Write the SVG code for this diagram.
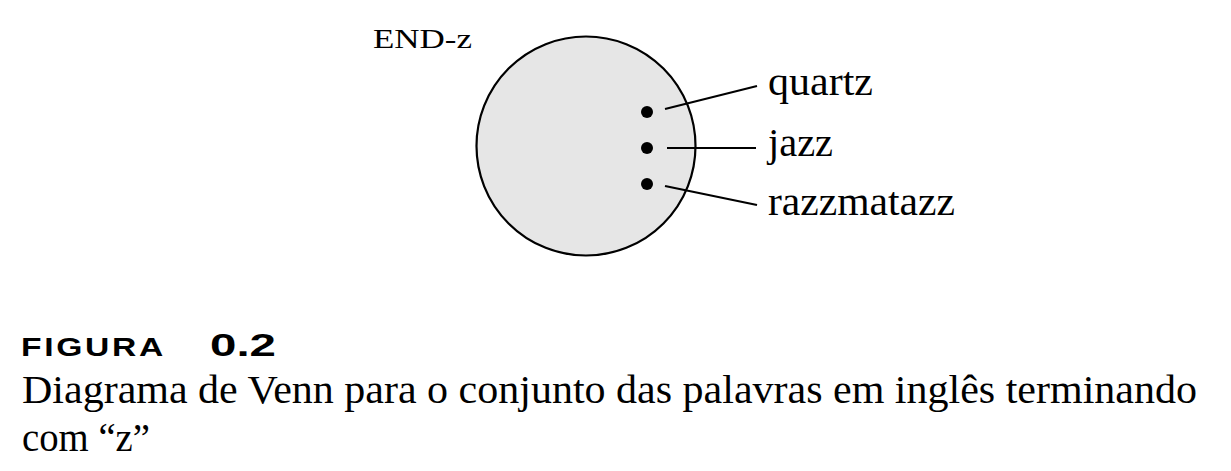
<svg xmlns="http://www.w3.org/2000/svg" width="1231" height="471" viewBox="0 0 1231 471">
<style>
.serif{font-family:"Liberation Serif","DejaVu Serif",serif;fill:#000}
.sans{font-family:"Liberation Sans",Arial,sans-serif;font-weight:bold;fill:#000}
.lbl{font-size:41px}
.ln{stroke:#000;stroke-width:2.2;fill:none}
.dot{fill:#000}
</style>
<rect width="1231" height="471" fill="#fff"/>
<g id="set-endz">
<circle cx="586" cy="146" r="109.5" fill="#e6e6e6" stroke="#000" stroke-width="2.2"/>
<text class="serif" x="373" y="48" font-size="27" textLength="99" lengthAdjust="spacingAndGlyphs">END-z</text>
</g>
<g id="elem-quartz">
<circle class="dot" cx="647" cy="112" r="6"/>
<text class="serif lbl" x="768" y="95" textLength="105" lengthAdjust="spacingAndGlyphs">quartz</text>
</g>
<g id="elem-jazz">
<circle class="dot" cx="647" cy="148" r="6"/>
<text class="serif lbl" x="768" y="156" textLength="65" lengthAdjust="spacingAndGlyphs">jazz</text>
</g>
<g id="elem-razzmatazz">
<circle class="dot" cx="647" cy="184" r="6"/>
<text class="serif lbl" x="768" y="215" textLength="187" lengthAdjust="spacingAndGlyphs">razzmatazz</text>
</g>
<g id="connectors">
<line class="ln" x1="665" y1="109" x2="757" y2="86"/>
<line class="ln" x1="667" y1="148" x2="756" y2="148"/>
<line class="ln" x1="665" y1="186" x2="757" y2="205"/>
</g>
<g id="caption">
<text class="sans" x="21" y="356" font-size="25" letter-spacing="2" textLength="145" lengthAdjust="spacingAndGlyphs">FIGURA</text>
<text class="sans" x="210" y="356" font-size="32" textLength="66" lengthAdjust="spacingAndGlyphs">0.2</text>
<text class="serif" x="22" y="403" font-size="39" textLength="1175" lengthAdjust="spacingAndGlyphs">Diagrama de Venn para o conjunto das palavras em inglês terminando</text>
<text class="serif" x="22" y="451" font-size="39" textLength="128" lengthAdjust="spacingAndGlyphs">com “z”</text>
</g>
</svg>
